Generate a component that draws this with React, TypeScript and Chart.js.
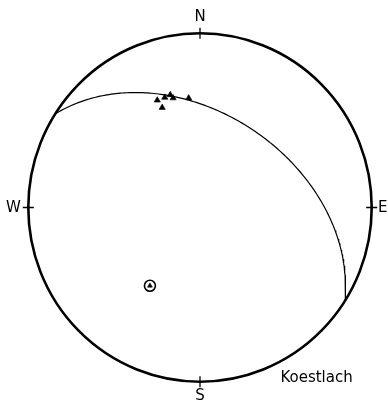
import React, { useEffect, useRef } from "react";
import { Chart, registerables } from "chart.js";

Chart.register(...registerables);

// Plane measured at the site: dip direction / dip (degrees)
const planeDipDirection = [32.5];
const planeDip = [45];

// Lineations: trend / plunge (degrees)
const lineationTrend = [338, 342, 345, 346, 339, 354];
const lineationPlunge = [34.0, 34.0, 33.5, 35.5, 38.5, 37.0];

// Pole to the plane: trend / plunge (degrees)
const poleTrend = [213];
const polePlunge = [45.5];

// Compass labels in order N, E, S, W
const compassLabels = ["N", "E", "S", "W"];
const siteName = "Koestlach";

const FONT = '"DejaVu Sans", sans-serif';
const rad = (d: number) => (d * Math.PI) / 180;
const deg = (r: number) => (r * 180) / Math.PI;

// Lower-hemisphere equal-area (Schmidt) projection, primitive radius = 1
function project(trend: number, plunge: number) {
  const r = Math.SQRT2 * Math.sin(rad(90 - plunge) / 2);
  return { x: r * Math.sin(rad(trend)), y: r * Math.cos(rad(trend)) };
}

// Trace of a plane: lines in the plane swept from strike to the opposite strike
function greatCircle(dipDir: number, dip: number) {
  const strike = dipDir - 90;
  const pts: { x: number; y: number }[] = [];
  for (let a = 0; a <= 180; a += 1) {
    const c = Math.cos(rad(a));
    const s = Math.sin(rad(a));
    const n = c * Math.cos(rad(strike)) + s * Math.cos(rad(dip)) * Math.cos(rad(dipDir));
    const e = c * Math.sin(rad(strike)) + s * Math.cos(rad(dip)) * Math.sin(rad(dipDir));
    const d = s * Math.sin(rad(dip));
    const plunge = deg(Math.asin(Math.max(-1, Math.min(1, d))));
    const trend = deg(Math.atan2(e, n));
    pts.push(project(trend, plunge));
  }
  return pts;
}

// Primitive circle, compass ticks, labels and site name
const netFrame = {
  id: "netFrame",
  afterDatasetsDraw(chart: any) {
    const { ctx, scales, chartArea } = chart;
    const xs = scales.x;
    const ys = scales.y;
    const cx = xs.getPixelForValue(0);
    const cy = ys.getPixelForValue(0);
    const rx = xs.getPixelForValue(1) - cx;
    const ry = cy - ys.getPixelForValue(1);
    ctx.save();
    ctx.strokeStyle = "#000";
    ctx.lineWidth = 2.6;
    ctx.beginPath();
    ctx.ellipse(cx, cy, rx, ry, 0, 0, Math.PI * 2);
    ctx.stroke();

    ctx.lineWidth = 1.3;
    const t = 5.5;
    ctx.beginPath();
    ctx.moveTo(cx, cy - ry - t);
    ctx.lineTo(cx, cy - ry + t);
    ctx.moveTo(cx, cy + ry - t);
    ctx.lineTo(cx, cy + ry + t);
    ctx.moveTo(cx - rx - t, cy);
    ctx.lineTo(cx - rx + t, cy);
    ctx.moveTo(cx + rx - t, cy);
    ctx.lineTo(cx + rx + t, cy);
    ctx.stroke();

    ctx.fillStyle = "#000";
    ctx.font = `15px ${FONT}`;
    ctx.textAlign = "center";
    ctx.textBaseline = "middle";
    ctx.fillText(compassLabels[0], cx, cy - ry - 16);
    ctx.fillText(compassLabels[1], cx + rx + 11, cy + 1);
    ctx.fillText(compassLabels[2], cx, cy + ry + 14);
    ctx.fillText(compassLabels[3], cx - rx - 15, cy + 1);

    ctx.textAlign = "right";
    ctx.fillText(siteName, chartArea.right - 19, chartArea.bottom - 4);
    ctx.restore();
  },
};

export default function App() {
  const ref = useRef<HTMLCanvasElement | null>(null);

  useEffect(() => {
    const canvas = ref.current;
    if (!canvas) return;
    const planeTrace = greatCircle(planeDipDirection[0], planeDip[0]);
    const lineations = lineationTrend.map((tr, i) => project(tr, lineationPlunge[i]));
    const poles = poleTrend.map((tr, i) => project(tr, polePlunge[i]));

    const chart = new Chart(canvas, {
      type: "scatter",
      data: {
        datasets: [
          {
            data: planeTrace,
            showLine: true,
            borderColor: "#000",
            borderWidth: 1.2,
            pointRadius: 0,
            fill: false,
            tension: 0,
            order: 3,
          },
          {
            data: lineations,
            pointStyle: "triangle",
            pointRadius: 3.6,
            backgroundColor: "#000",
            borderColor: "#000",
            borderWidth: 0.6,
            order: 2,
          },
          {
            // open ring around the pole
            data: poles,
            pointStyle: "circle",
            pointRadius: 5.5,
            backgroundColor: "#fff",
            borderColor: "#000",
            borderWidth: 1.6,
            order: 1,
          },
          {
            // filled mark inside the ring
            data: poles,
            pointStyle: "triangle",
            pointRadius: 2.8,
            backgroundColor: "#000",
            borderColor: "#000",
            borderWidth: 0.6,
            order: 0,
          },
        ],
      },
      options: {
        responsive: false,
        animation: false,
        events: [],
        layout: { padding: { left: 28.3, right: 16.3, top: 33.3, bottom: 23.3 } },
        plugins: { legend: { display: false }, tooltip: { enabled: false } },
        scales: {
          x: { type: "linear", min: -1, max: 1, display: false },
          y: { type: "linear", min: -1, max: 1, display: false },
        },
      },
      plugins: [netFrame],
    });
    return () => chart.destroy();
  }, []);

  return (
    <div style={{ position: "absolute", left: 0, top: 0, width: 388, height: 405, background: "#fff" }}>
      <canvas ref={ref} width={388} height={405} />
    </div>
  );
}
